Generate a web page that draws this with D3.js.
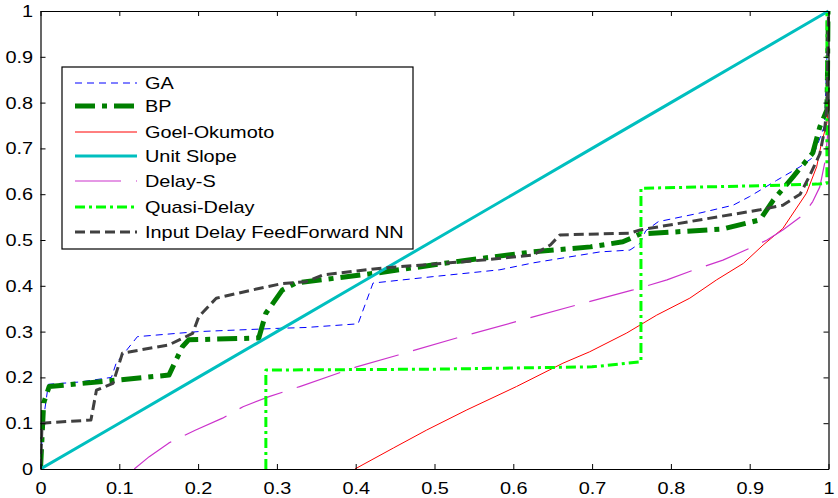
<!DOCTYPE html>
<html>
<head>
<meta charset="utf-8">
<script src="https://cdn.jsdelivr.net/npm/d3@7"></script>
<style>
  html, body { margin: 0; padding: 0; background: #fff; }
  svg { display: block; }
  text { font-family: "Liberation Sans", Arial, sans-serif; }
</style>
</head>
<body>
<svg id="chart" width="838" height="498"></svg>
<script>
// Axis ticks
const xTicks = [0, 0.1, 0.2, 0.3, 0.4, 0.5, 0.6, 0.7, 0.8, 0.9, 1];
const yTicks = [0, 0.1, 0.2, 0.3, 0.4, 0.5, 0.6, 0.7, 0.8, 0.9, 1];
const tickLabels = ["0", "0.1", "0.2", "0.3", "0.4", "0.5", "0.6", "0.7", "0.8", "0.9", "1"];

// Series: [x, y] points
const gaPoints = [[0,0],[0.003,0.1],[0.01,0.185],[0.05,0.19],[0.09,0.2],[0.096,0.231],[0.123,0.289],[0.2,0.3],[0.3,0.307],[0.337,0.309],[0.403,0.317],[0.422,0.406],[0.498,0.42],[0.583,0.435],[0.625,0.45],[0.71,0.474],[0.748,0.478],[0.761,0.493],[0.768,0.52],[0.784,0.54],[0.837,0.559],[0.879,0.576],[0.9,0.595],[0.934,0.63],[0.964,0.66],[0.98,0.68],[0.995,0.75],[1,1]];
const bpPoints = [[0,0],[0.004,0.144],[0.011,0.18],[0.163,0.205],[0.18,0.267],[0.188,0.282],[0.277,0.286],[0.286,0.34],[0.307,0.391],[0.324,0.406],[0.427,0.428],[0.541,0.456],[0.625,0.474],[0.698,0.485],[0.739,0.496],[0.761,0.513],[0.866,0.524],[0.913,0.544],[0.93,0.587],[0.955,0.638],[0.98,0.69],[0.989,0.747],[0.998,0.784],[1,1]];
const goelPoints = [[0.399,0],[0.448,0.046],[0.49,0.085],[0.541,0.129],[0.604,0.18],[0.663,0.231],[0.697,0.256],[0.744,0.297],[0.782,0.336],[0.824,0.373],[0.858,0.413],[0.892,0.449],[0.917,0.489],[0.942,0.525],[0.972,0.602],[0.985,0.66],[0.991,0.711],[0.998,0.755],[1,0.8]];
const unitPoints = [[0,0],[0.1,0.1],[0.2,0.2],[0.3,0.3],[0.4,0.4],[0.5,0.5],[0.6,0.6],[0.7,0.7],[0.8,0.8],[0.9,0.9],[1,1]];
const delaySPoints = [[0.119,0],[0.138,0.027],[0.163,0.057],[0.197,0.085],[0.231,0.111],[0.257,0.136],[0.29,0.158],[0.329,0.18],[0.401,0.223],[0.454,0.249],[0.528,0.286],[0.604,0.322],[0.68,0.358],[0.752,0.391],[0.795,0.413],[0.828,0.434],[0.866,0.456],[0.9,0.482],[0.922,0.5],[0.942,0.522],[0.968,0.555],[0.98,0.584],[0.989,0.616],[0.996,0.675],[1,0.75]];
const quasiPoints = [[0.286,0],[0.286,0.216],[0.5,0.218],[0.7,0.223],[0.762,0.234],[0.762,0.613],[0.9,0.618],[0.985,0.622],[0.998,0.624],[0.998,1]];
const inputDelayPoints = [[0,0],[0.002,0.1],[0.064,0.107],[0.071,0.172],[0.092,0.187],[0.104,0.253],[0.163,0.271],[0.193,0.296],[0.201,0.333],[0.223,0.373],[0.269,0.391],[0.307,0.405],[0.337,0.409],[0.359,0.424],[0.435,0.439],[0.541,0.453],[0.625,0.467],[0.647,0.489],[0.659,0.511],[0.748,0.515],[0.761,0.522],[0.913,0.566],[0.942,0.576],[0.964,0.6],[0.976,0.64],[0.989,0.688],[0.995,0.74],[0.998,0.79],[1,1]];

const seriesNames = ["GA", "BP", "Goel-Okumoto", "Unit Slope", "Delay-S", "Quasi-Delay", "Input Delay FeedForward NN"];
const seriesData = [gaPoints, bpPoints, goelPoints, unitPoints, delaySPoints, quasiPoints, inputDelayPoints];

// Line styles per series
const styles = [
  { color: "#0000ff", width: 1,   dash: "7,5" },
  { color: "#007f00", width: 5,   dash: "20,7,5,7" },
  { color: "#ff0000", width: 1,   dash: null },
  { color: "#00bfbf", width: 3,   dash: null },
  { color: "#cc33cc", width: 1.2, dash: "46,15" },
  { color: "#00ff00", width: 3,   dash: "10,4,3,4" },
  { color: "#404040", width: 3,   dash: "10,5" }
];

// Text is drawn slightly wide
const textStretch = 1.17;
const fontSize = "17px";

const svg = d3.select("#chart");
const plotLeft = 40.5, plotRight = 828.5, plotTop = 11, plotBottom = 469;

const x = d3.scaleLinear().domain([0, 1]).range([plotLeft, plotRight]);
const y = d3.scaleLinear().domain([0, 1]).range([plotBottom, plotTop]);

svg.append("defs").append("clipPath").attr("id", "plotClip")
  .append("rect").attr("x", plotLeft).attr("y", plotTop - 2)
  .attr("width", plotRight - plotLeft + 2).attr("height", plotBottom - plotTop + 2);

const line = d3.line().x(d => x(d[0])).y(d => y(d[1]));

const plot = svg.append("g").attr("clip-path", "url(#plotClip)");
seriesData.forEach((pts, i) => {
  const s = styles[i];
  plot.append("path")
    .datum(pts)
    .attr("d", line)
    .attr("fill", "none")
    .attr("stroke", s.color)
    .attr("stroke-width", s.width)
    .attr("stroke-dasharray", s.dash)
    .attr("stroke-linejoin", "round");
});

// Axes on all four sides, ticks pointing inward
const labelFor = (d) => tickLabels[xTicks.indexOf(d)];
const axB = svg.append("g").attr("transform", `translate(0,${plotBottom})`)
  .call(d3.axisBottom(x).tickValues(xTicks).tickSizeInner(-5).tickSizeOuter(0).tickPadding(13).tickFormat(labelFor));
const axT = svg.append("g").attr("transform", `translate(0,${plotTop})`)
  .call(d3.axisTop(x).tickValues(xTicks).tickSizeInner(-5).tickSizeOuter(0).tickFormat(""));
const axL = svg.append("g").attr("transform", `translate(${plotLeft},0)`)
  .call(d3.axisLeft(y).tickValues(yTicks).tickSizeInner(-5).tickSizeOuter(0).tickPadding(6.4).tickFormat((d) => tickLabels[yTicks.indexOf(d)]));
const axR = svg.append("g").attr("transform", `translate(${plotRight},0)`)
  .call(d3.axisRight(y).tickValues(yTicks).tickSizeInner(-5).tickSizeOuter(0).tickFormat(""));

[axB, axT, axL, axR].forEach(g => {
  g.select(".domain").attr("stroke", "#000").attr("stroke-width", 1.2);
  g.selectAll(".tick line").attr("stroke", "#000");
  g.selectAll("text").attr("fill", "#000").style("font-size", fontSize)
    .style("font-family", "'Liberation Sans', Arial, sans-serif")
    .attr("transform", `scale(${textStretch},1)`);
});

// Legend
const legend = svg.append("g");
const lx = 62, ly = 67, lw = 351, lh = 182;
legend.append("rect").attr("x", lx).attr("y", ly).attr("width", lw).attr("height", lh)
  .attr("fill", "#fff").attr("stroke", "#000").attr("stroke-width", 1.2);
const rowY = [83, 106, 132, 156, 181, 207, 232];
seriesNames.forEach((name, i) => {
  const s = styles[i];
  legend.append("line")
    .attr("x1", 75).attr("x2", 137).attr("y1", rowY[i]).attr("y2", rowY[i])
    .attr("stroke", s.color).attr("stroke-width", s.width)
    .attr("stroke-dasharray", s.dash);
  legend.append("text")
    .attr("transform", `translate(145,${rowY[i]}) scale(${textStretch},1)`)
    .attr("dy", "0.36em")
    .style("font-size", fontSize).attr("fill", "#000")
    .text(name);
});
</script>
</body>
</html>
